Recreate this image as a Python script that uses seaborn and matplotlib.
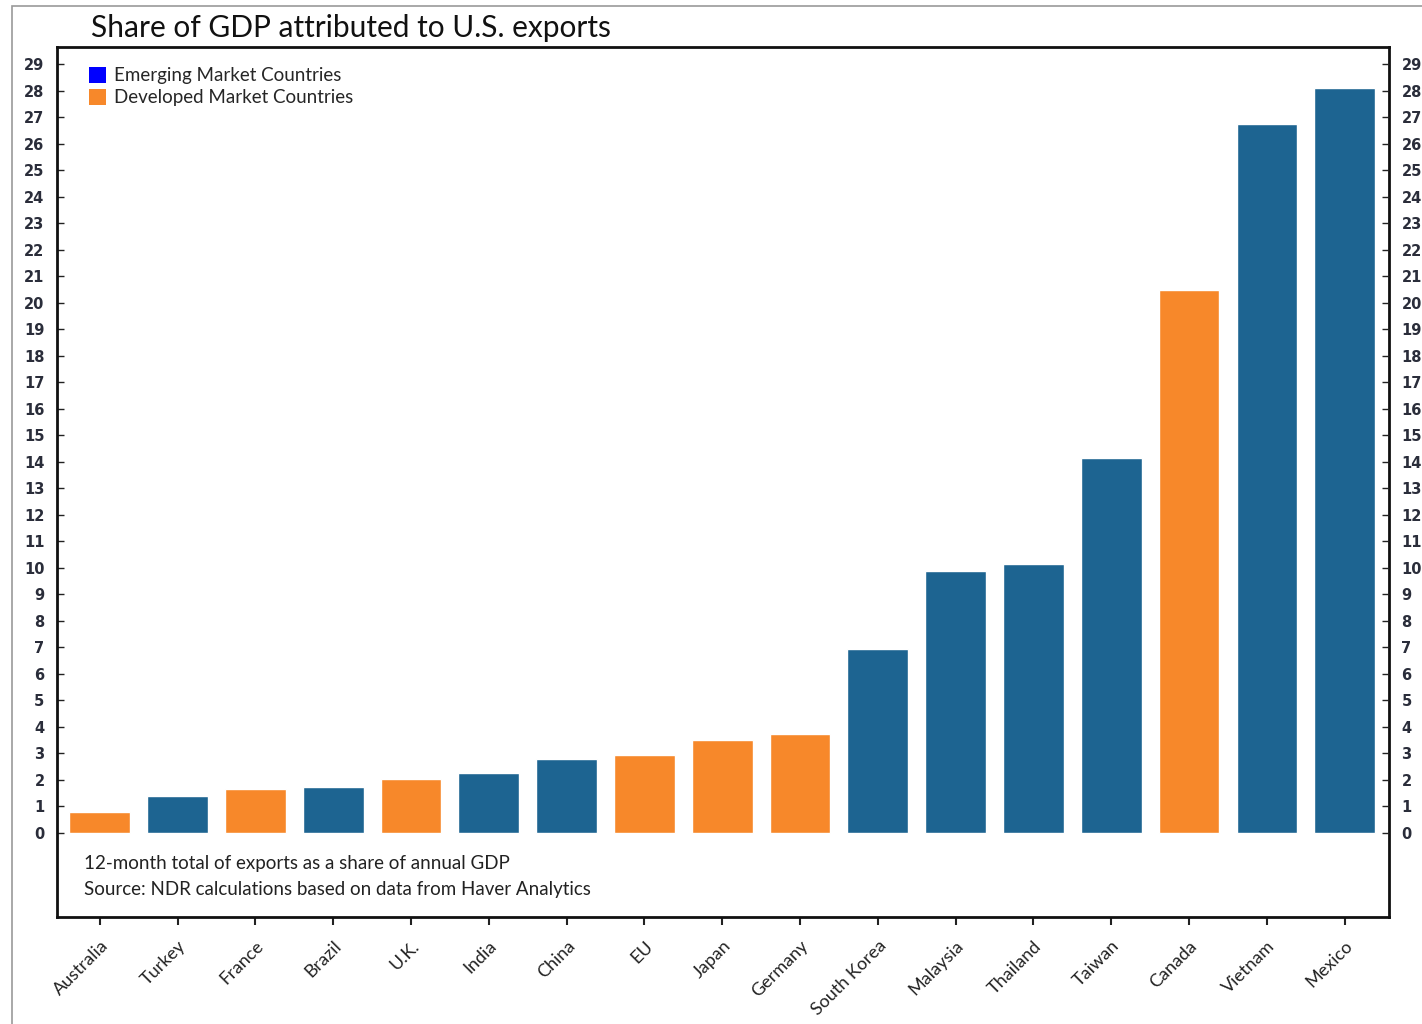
import matplotlib
matplotlib.use("Agg")
import matplotlib.pyplot as plt
import matplotlib.patches as mpatches
import seaborn as sns
import pandas as pd

countries = ["Australia", "Turkey", "France", "Brazil", "U.K.", "India", "China", "EU",
             "Japan", "Germany", "South Korea", "Malaysia", "Thailand", "Taiwan",
             "Canada", "Vietnam", "Mexico"]
shares = [0.78, 1.38, 1.65, 1.75, 2.05, 2.25, 2.8, 2.95, 3.5, 3.72, 6.95, 9.9, 10.15,
          14.15, 20.5, 26.75, 28.1]
groups = ["Developed", "Emerging", "Developed", "Emerging", "Developed", "Emerging",
          "Emerging", "Developed", "Developed", "Developed", "Emerging", "Emerging",
          "Emerging", "Emerging", "Developed", "Emerging", "Emerging"]
y_ticks = list(range(0, 30))

title = "Share of GDP attributed to U.S. exports"
legend_labels = ["Emerging Market Countries", "Developed Market Countries"]
notes = ["12-month total of exports as a share of annual GDP",
         "Source: NDR calculations based on data from Haver Analytics"]

bar_colors = {"Emerging": "#1d6491", "Developed": "#f7882a"}
legend_colors = ["#0000ff", "#f7882a"]

df = pd.DataFrame({"country": countries, "share": shares, "group": groups})

sns.set_theme(style="white")
plt.rcParams["font.family"] = ["Lato", "DejaVu Sans"]

fig = plt.figure(figsize=(14.22, 10.24), dpi=100)
ax = fig.add_axes([57 / 1422, 1 - 917 / 1024, (1389 - 57) / 1422, (917 - 47) / 1024])

sns.barplot(data=df, x="country", y="share", hue="group", order=countries,
            palette=bar_colors, dodge=False, width=0.78, legend=False,
            saturation=1, ax=ax)

ax.set_xlim(-0.55, len(countries) - 1 + 0.57)
ax.set_ylim(-3.17, 29.66)
ax.set_xlabel("")
ax.set_ylabel("")

for s in ax.spines.values():
    s.set_visible(True)
    s.set_color("#111111")
    s.set_linewidth(2)

tick_color = "#2a2d3a"
ax.set_yticks(y_ticks)
ax.set_yticklabels([str(v) for v in y_ticks], fontfamily="DejaVu Sans",
                   fontweight="bold", fontsize=10.5, color=tick_color)
ax.tick_params(axis="y", direction="in", length=5, width=1, color="#222222",
               left=True, pad=9)

ax.set_xticks(range(len(countries)))
ax.set_xticklabels(countries, rotation=45, ha="right", rotation_mode="anchor",
                   fontsize=13, color="#222222")
ax.tick_params(axis="x", direction="out", length=6, width=1.5, color="#222222",
               bottom=True, pad=9)

ax2 = ax.twinx()
ax2.set_ylim(ax.get_ylim())
ax2.set_yticks(y_ticks)
ax2.set_yticklabels([str(v) for v in y_ticks], fontfamily="DejaVu Sans",
                    fontweight="bold", fontsize=10.5, color=tick_color)
ax2.tick_params(axis="y", direction="in", length=5, width=1, color="#222222",
                right=True, pad=9)
for s in ax2.spines.values():
    s.set_visible(False)

handles = [mpatches.Patch(facecolor=c, edgecolor="none") for c in legend_colors]
leg = ax.legend(handles, legend_labels, loc="upper left",
                bbox_to_anchor=(0.014, 0.992), frameon=False, fontsize=13.5,
                handlelength=0.9, handleheight=0.9, handletextpad=0.45,
                labelspacing=0.25, borderaxespad=0.3)

ax.text(84 / 1422, 1 - 864 / 1024, notes[0], transform=fig.transFigure,
        fontsize=13.5, va="center", ha="left", color="#222222")
ax.text(84 / 1422, 1 - 889 / 1024, notes[1], transform=fig.transFigure,
        fontsize=13.5, va="center", ha="left", color="#222222")

fig.text(91 / 1422, 1 - 28 / 1024, title, fontsize=21.5, va="center", ha="left",
         color="#111111")

fig.patches.append(mpatches.Rectangle((12 / 1422, -0.1), 1.2, 1 - 6 / 1024 + 0.1,
                                      transform=fig.transFigure, fill=False,
                                      edgecolor="#999999", linewidth=1.2))

fig.savefig("out.png", dpi=100)
